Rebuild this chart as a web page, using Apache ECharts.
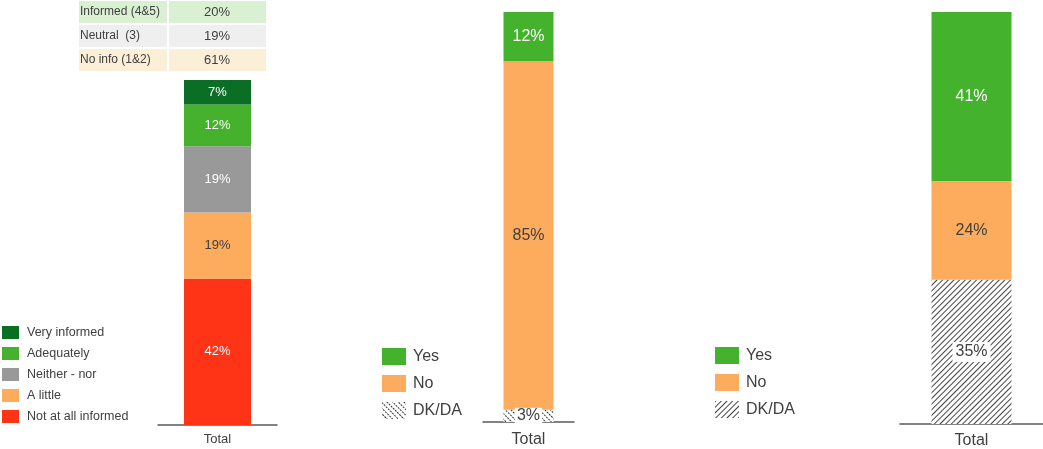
<!DOCTYPE html>
<html><head><meta charset="utf-8">
<script src="https://cdn.jsdelivr.net/npm/echarts@6/dist/echarts.min.js"></script>
<style>html,body{margin:0;padding:0;background:#fff}#c{width:1043px;height:449px}</style>
</head><body><div id="c"></div>
<script>
// ---- data ----
const categories = ['Total'];
const c1Names = ['Not at all informed', 'A little', 'Neither - nor', 'Adequately', 'Very informed'];
const c1Values = [42, 19, 19, 12, 7];
const c2Names = ['DK/DA', 'No', 'Yes'];
const c2Values = [3, 85, 12];
const c3Names = ['DK/DA', 'No', 'Yes'];
const c3Values = [35, 24, 41];
const tableLabels = ['Informed (4&5)', 'Neutral  (3)', 'No info (1&2)'];
const tableValues = ['20%', '19%', '61%'];

// ---- styles ----
const FONT = 'Liberation Sans, Arial, sans-serif';
const TXT = '#404040';
const c1Colors = ['#ff3416', '#fdac5e', '#999999', '#45b12d', '#0b6e25'];
const c1LabelColors = ['#fff', TXT, '#fff', '#fff', '#fff'];
const c2Colors = ['#ffffff', '#fdac5e', '#45b22d'];
const yesNoLabelColors = [TXT, TXT, '#fff'];
const tableColors = ['#d9f1d2', '#efefef', '#fcefd7'];

const hatchBack = { symbol: 'rect', symbolSize: 1, color: '#333', dashArrayX: [2, 1], dashArrayY: [1, 3], rotation: Math.PI / 4 };
const hatchFwd = { symbol: 'rect', symbolSize: 1, color: '#444', dashArrayX: [1, 0], dashArrayY: [1, 2.5], rotation: -Math.PI / 4 };

const chart = echarts.init(document.getElementById('c'), null, { renderer: 'canvas' });

const series = [];
c1Names.forEach((n, i) => series.push({
  type: 'bar', name: n, stack: 's1', xAxisIndex: 0, yAxisIndex: 0, barWidth: 67,
  data: [c1Values[i]], itemStyle: { color: c1Colors[i] },
  label: { show: true, position: 'inside', formatter: '{c}%', color: c1LabelColors[i], fontSize: 13, fontFamily: FONT },
  emphasis: { disabled: true }
}));
c2Names.forEach((n, i) => series.push({
  type: 'bar', name: n, stack: 's2', xAxisIndex: 1, yAxisIndex: 1, barWidth: 50,
  data: [c2Values[i]],
  itemStyle: i === 0 ? { color: '#fff', decal: hatchBack } : { color: c2Colors[i] },
  label: Object.assign({ show: true, position: 'inside', formatter: '{c}%', color: yesNoLabelColors[i], fontSize: 16, fontFamily: FONT },
    i === 0 ? { backgroundColor: '#fff', padding: [0, 2] } : {}),
  emphasis: { disabled: true }
}));
c3Names.forEach((n, i) => series.push({
  type: 'bar', name: n + ' ', stack: 's3', xAxisIndex: 2, yAxisIndex: 2, barWidth: 80,
  data: [c3Values[i]],
  itemStyle: i === 0 ? { color: '#fff', decal: hatchFwd } : { color: c2Colors[i] },
  label: Object.assign({ show: true, position: 'inside', formatter: '{c}%', color: yesNoLabelColors[i], fontSize: 16, fontFamily: FONT },
    i === 0 ? { backgroundColor: '#fff', padding: [2, 3] } : {}),
  emphasis: { disabled: true }
}));

const sum = a => a.reduce((s, v) => s + v, 0);

const xAxisBase = (fs, margin) => ({
  type: 'category', data: categories,
  axisTick: { show: false },
  axisLine: { lineStyle: { color: '#5a5a5a', width: 1.5 } },
  axisLabel: { color: TXT, fontSize: fs, fontFamily: FONT, margin: margin }
});
const yAxisBase = (max) => ({ type: 'value', min: 0, max: max, show: false, splitLine: { show: false } });

const graphic = [];
tableLabels.forEach((lab, i) => {
  const y = 1 + i * 24;
  graphic.push({ type: 'rect', left: 79, top: y, shape: { width: 88, height: 22 }, style: { fill: tableColors[i] }, silent: true });
  graphic.push({ type: 'rect', left: 169, top: y, shape: { width: 97, height: 22 }, style: { fill: tableColors[i] }, silent: true });
  graphic.push({ type: 'text', left: 80, top: y + 5, style: { text: lab, fill: TXT, font: '12px ' + FONT }, silent: true });
  graphic.push({ type: 'text', x: 217, y: y + 11, style: { text: tableValues[i], fill: TXT, font: '13px ' + FONT, textAlign: 'center', textVerticalAlign: 'middle' }, silent: true });
});

chart.setOption({
  animation: false,
  textStyle: { fontFamily: FONT },
  grid: [
    { left: 158, width: 119, top: 80, bottom: 24 },
    { left: 483, width: 91, top: 12, bottom: 27 },
    { left: 900, width: 143, top: 12, bottom: 25 }
  ],
  xAxis: [xAxisBase(13, 8), xAxisBase(16, 10), xAxisBase(16, 9)].map((a, i) => Object.assign(a, { gridIndex: i })),
  yAxis: [yAxisBase(sum(c1Values)), yAxisBase(sum(c2Values)), yAxisBase(sum(c3Values))].map((a, i) => Object.assign(a, { gridIndex: i })),
  legend: [
    { data: c1Names.slice().reverse(), orient: 'vertical', left: 2, top: 326, padding: 0, itemWidth: 17, itemHeight: 13, itemGap: 8,
      icon: 'rect', selectedMode: false, textStyle: { color: TXT, fontSize: 12.5, fontFamily: FONT, padding: [0, 0, 0, 3] } },
    { data: c2Names.slice().reverse(), orient: 'vertical', left: 382, top: 348, padding: 0, itemWidth: 24, itemHeight: 17, itemGap: 10,
      icon: 'rect', selectedMode: false, textStyle: { color: TXT, fontSize: 16, fontFamily: FONT, padding: [0, 0, 0, 2] } },
    { data: c3Names.slice().reverse().map(n => n + ' '), orient: 'vertical', left: 715, top: 347, padding: 0, itemWidth: 24, itemHeight: 17, itemGap: 10,
      icon: 'rect', selectedMode: false, formatter: n => n.trim(), textStyle: { color: TXT, fontSize: 16, fontFamily: FONT, padding: [0, 0, 0, 2] } }
  ],
  graphic: graphic,
  series: series
});
</script>
</body></html>
